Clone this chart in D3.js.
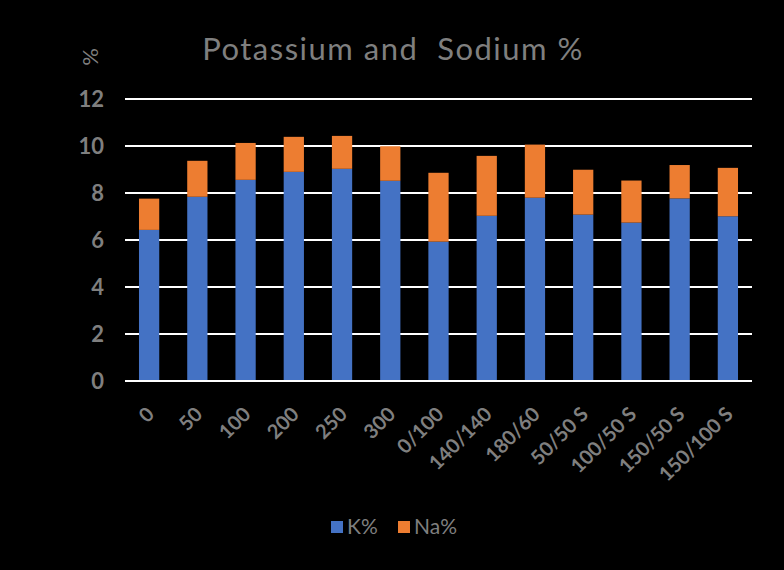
<!DOCTYPE html>
<html><head><meta charset="utf-8">
<script src="https://cdn.jsdelivr.net/npm/d3@7"></script>
<style>html,body{margin:0;padding:0;background:#000;}svg{display:block;}</style>
</head><body>
<script>
const categories = ["0","50","100","200","250","300","0/100","140/140","180/60","50/50 S","100/50 S","150/50 S","150/100 S"];
const kValues  = [6.43,7.84,8.56,8.90,9.03,8.52,5.93,7.03,7.80,7.08,6.74,7.77,7.01];
const naValues = [1.33,1.53,1.57,1.49,1.40,1.47,2.93,2.55,2.26,1.91,1.79,1.42,2.06];
const seriesNames = ["K%","Na%"];
const yTicks = [0,2,4,6,8,10,12];
const colors = ["#4472C4","#ED7D31"];

const W=784,H=570;
const svg=d3.select("body").append("svg").attr("width",W).attr("height",H);
svg.append("rect").attr("width",W).attr("height",H).attr("fill","#000");
const font="Lato, 'Open Sans', sans-serif";
const grey="#7f7f7f";

const x=d3.scaleBand().domain(categories).range([125,752]).paddingInner(0.58).paddingOuter(0.29);
const y=d3.scaleLinear().domain([0,12]).range([381,99]);

const rows=categories.map((c,i)=>({cat:c,"K%":kValues[i],"Na%":naValues[i]}));
const stacked=d3.stack().keys(seriesNames)(rows);

// gridlines
svg.append("g").selectAll("line").data(yTicks).join("line")
  .attr("x1",125).attr("x2",752).attr("y1",d=>y(d)).attr("y2",d=>y(d))
  .attr("stroke","#ffffff").attr("stroke-width",2);

// bars
svg.append("g").selectAll("g").data(stacked).join("g").attr("fill",(d,i)=>colors[i])
  .selectAll("rect").data(d=>d).join("rect")
  .attr("x",d=>x(d.data.cat)).attr("width",x.bandwidth())
  .attr("y",d=>y(d[1])).attr("height",d=>y(d[0])-y(d[1]));

// baseline
svg.append("line").attr("x1",125).attr("x2",752).attr("y1",y(0)).attr("y2",y(0))
  .attr("stroke","#ffffff").attr("stroke-width",2);

// y axis
const yAxis=d3.axisLeft(y).tickValues(yTicks).tickSize(0).tickPadding(0);
const yg=svg.append("g").attr("transform","translate(104,0)").call(yAxis);
yg.select(".domain").remove();
yg.selectAll("text").attr("fill",grey).attr("font-family",font).attr("font-size",22).attr("font-weight","bold");

// x axis
const xAxis=d3.axisBottom(x).tickSize(0).tickPadding(0);
const xg=svg.append("g").attr("transform","translate(0,412)").call(xAxis);
xg.select(".domain").remove();
xg.selectAll("text").attr("fill",grey).attr("font-family",font).attr("font-size",20).attr("font-weight","bold")
  .attr("text-anchor","end").attr("y",0).attr("dy","0.35em").attr("dx","0.1em")
  .attr("transform","rotate(-45)");

// title
svg.append("text").attr("x",393).attr("y",60).attr("text-anchor","middle")
  .style("white-space","pre").attr("letter-spacing",1.5)
  .attr("fill",grey).attr("font-family",font).attr("font-size",31).text("Potassium and  Sodium %");

// y label
svg.append("text").attr("transform","translate(98,57) rotate(-90)").attr("text-anchor","middle")
  .attr("fill",grey).attr("font-family",font).attr("font-size",22).text("%");

// legend
const leg=svg.append("g").attr("transform","translate(331,527)");
const items=leg.selectAll("g").data(seriesNames).join("g").attr("transform",(d,i)=>`translate(${i*67},0)`);
items.append("rect").attr("x",0).attr("y",-6).attr("width",12).attr("height",12).attr("fill",(d,i)=>colors[i]);
items.append("text").attr("x",16).attr("y",0).attr("dy","0.35em").attr("fill",grey)
  .attr("font-family",font).attr("font-size",21).text(d=>d);
</script>
</body></html>
